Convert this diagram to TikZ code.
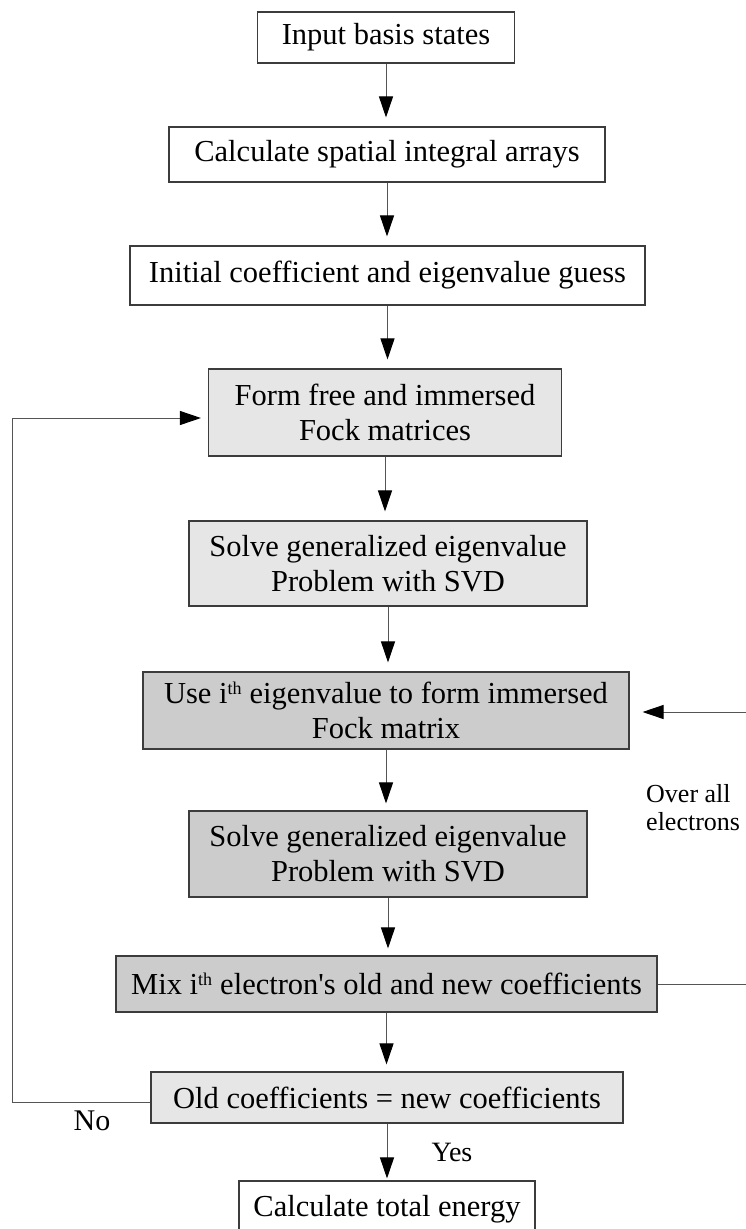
\documentclass[tikz,border=0pt]{standalone}
\usepackage{fontspec}
\setmainfont{Liberation Serif}
\usetikzlibrary{arrows.meta}
\definecolor{lightfill}{RGB}{230,230,230}
\definecolor{darkfill}{RGB}{204,204,204}
\definecolor{edgecol}{RGB}{60,60,60}
\definecolor{linecol}{RGB}{85,85,85}
\begin{document}
\begin{tikzpicture}[x=1pt,y=-1pt,
  box/.style={draw=edgecol, line width=1.1pt, inner sep=0pt, align=center,
    font=\fontsize{30.5}{35}\selectfont},
  whitebox/.style={box, fill=white},
  lightbox/.style={box, fill=lightfill},
  darkbox/.style={box, fill=darkfill},
  arr/.style={draw=linecol, line width=1pt,
    -{Triangle[length=21pt,width=14pt,fill=black,color=black]}},
  lbl/.style={inner sep=0pt, font=\fontsize{30}{34}\selectfont}
]
\useasboundingbox (0,0) rectangle (746,1229);

\node[whitebox, minimum width=257, minimum height=51] (b1) at (386,37.5) {Input basis states};
\node[whitebox, minimum width=436, minimum height=55] (b2) at (387,154.5) {Calculate spatial integral arrays};
\node[whitebox, minimum width=515, minimum height=59] (b3) at (387.5,275.5) {Initial coefficient and eigenvalue guess};
\node[lightbox, minimum width=353, minimum height=87] (b4) at (385,412.5) {Form free and immersed\\Fock matrices};
\node[lightbox, minimum width=398, minimum height=85] (b5) at (388,563.5) {Solve generalized eigenvalue\\Problem with SVD};
\node[darkbox, minimum width=486, minimum height=77] (b6) at (386,710.5) {Use i\textsuperscript{\fontsize{18}{18}\selectfont th} eigenvalue to form immersed\\Fock matrix};
\node[darkbox, minimum width=398, minimum height=86] (b7) at (388,854) {Solve generalized eigenvalue\\Problem with SVD};
\node[darkbox, minimum width=541, minimum height=56] (b8) at (386.5,984) {Mix i\textsuperscript{\fontsize{18}{18}\selectfont th} electron\textquotesingle s old and new coefficients};
\node[lightbox, minimum width=472, minimum height=51] (b9) at (387,1097.5) {Old coefficients = new coefficients};
\node[whitebox, minimum width=296, minimum height=56] (b10) at (387,1209) {Calculate total energy};

\draw[arr, shorten >=9pt] (b1.south) -- (b1.south |- b2.north);
\draw[arr, shorten >=9pt] (b2.south) -- (b2.south |- b3.north);
\draw[arr, shorten >=9pt] (b3.south) -- (b3.south |- b4.north);
\draw[arr, shorten >=9pt] (b4.south) -- (b4.south |- b5.north);
\draw[arr, shorten >=9pt] (b5.south) -- (b5.south |- b6.north);
\draw[arr, shorten >=7pt] (b6.south) -- (b6.south |- b7.north);
\draw[arr, shorten >=7pt] (b7.south) -- (b7.south |- b8.north);
\draw[arr, shorten >=7pt] (b8.south) -- (b8.south |- b9.north);
\draw[arr, shorten >=2pt] (b9.south) -- (b9.south |- b10.north);

% No loop
\coordinate (L) at (12.7,418);
\draw[arr, shorten >=7pt] ([yshift=-4.5pt]b9.west) -| (L) -- (L -| b4.west);
% Over all electrons loop
\coordinate (R) at (749,712);
\draw[arr, shorten >=13pt] (b8.east) -| (R) -- (R -| b6.east);

\node[lbl] (no) at (92,1121) {No};
\node[lbl, font=\fontsize{28}{32}\selectfont] (yes) at (452,1152) {Yes};
\node[inner sep=0pt, anchor=north west, align=left,
  font=\fontsize{26}{28}\selectfont] (over) at (646,784) {Over all\\electrons};
\end{tikzpicture}
\end{document}
